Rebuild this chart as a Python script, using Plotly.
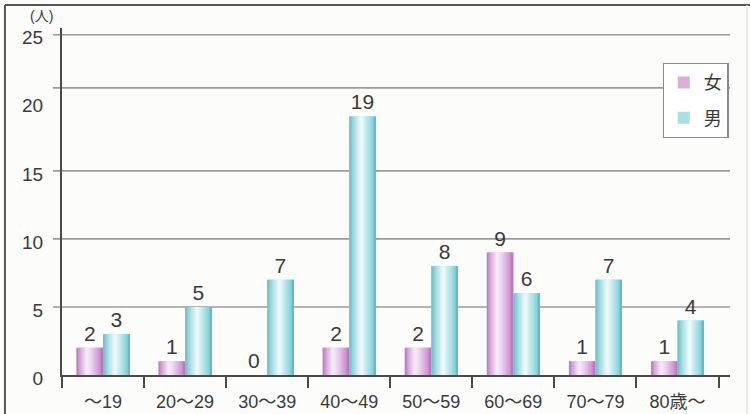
import plotly.graph_objects as go

# ---- data ----
categories = ["～19", "20～29", "30～39", "40～49", "50～59", "60～69", "70～79", "80歳～"]
female = [2, 1, 0, 2, 2, 9, 1, 1]
male = [3, 5, 7, 19, 8, 6, 7, 4]
y_ticks = [0, 5, 10, 15, 20, 25]
grid_levels = [5, 10, 15, 21.1, 25]   # printed gridline positions (one is off in the original)
series_names = ["女", "男"]

FONT = "Liberation Sans, Noto Sans CJK JP, sans-serif"
TXT = "#3a3a3a"
AX = "#4a4a4a"

def hex2rgb(h):
    h = h.lstrip("#")
    return tuple(int(h[i:i + 2], 16) for i in (0, 2, 4))

def interp(stops, t):
    for (t0, c0), (t1, c1) in zip(stops, stops[1:]):
        if t0 <= t <= t1:
            f = 0 if t1 == t0 else (t - t0) / (t1 - t0)
            a, b = hex2rgb(c0), hex2rgb(c1)
            return "rgb(%d,%d,%d)" % tuple(round(a[k] + (b[k] - a[k]) * f) for k in range(3))
    return stops[-1][1]

female_stops = [(0, "#b474bc"), (0.12, "#d4a2d8"), (0.38, "#f7eff7"), (0.55, "#eed4f0"),
                (0.85, "#cf98d3"), (1, "#b272ba")]
male_stops = [(0, "#68bcc6"), (0.18, "#a6dce2"), (0.45, "#f4fcfc"), (0.62, "#c6ecef"),
              (0.88, "#8ad4da"), (1, "#5eb2bb")]

bw = 0.323
N = 18
fig = go.Figure()

specs = [(female, -bw, female_stops, "#d9aedd", series_names[0]),
         (male, 0.0, male_stops, "#a9e0e5", series_names[1])]

for vals, base, stops, mid, name in specs:
    # label / legend trace (covered by strips)
    fig.add_trace(go.Bar(
        x=categories, y=vals, width=bw, offset=base, name=name,
        marker=dict(color=mid, line=dict(width=0)),
        text=[str(v) for v in vals], textposition="outside", constraintext="none",
        cliponaxis=False, textfont=dict(size=21, color=TXT, family=FONT),
        legendgroup=name, showlegend=True, hoverinfo="skip"))
    for i in range(N):
        sw = bw / N
        w = min(sw * 1.6, bw - i * sw)
        fig.add_trace(go.Bar(
            x=categories, y=vals, width=w, offset=base + i * sw,
            marker=dict(color=interp(stops, (i + 0.5) / N), line=dict(width=0)),
            showlegend=False, hoverinfo="skip", legendgroup=name))

shapes = []
for g in grid_levels:
    shapes.append(dict(type="line", xref="paper", yref="y", x0=-0.0135, x1=1.0, y0=g, y1=g,
                       line=dict(color="#9b9b9b", width=1.6), layer="below"))
# outer printed frame
shapes.append(dict(type="line", xref="paper", yref="paper", x0=-0.0854, x1=1.05, y0=1.066, y1=1.066,
                   line=dict(color="#555", width=2)))
shapes.append(dict(type="line", xref="paper", yref="paper", x0=-0.0854, x1=-0.0854, y0=1.066, y1=-0.2,
                   line=dict(color="#555", width=2)))
shapes.append(dict(type="line", xref="paper", yref="paper", x0=1.0254, x1=1.0254, y0=1.066, y1=-0.2,
                   line=dict(color="#e2e4e0", width=1.5)))

fig.update_layout(
    width=750, height=414,
    margin=dict(l=62, r=20, t=28, b=39),
    paper_bgcolor="#fcfdfa", plot_bgcolor="#fcfdfa",
    barmode="overlay",
    font=dict(family=FONT, color=TXT, size=18),
    shapes=shapes,
    showlegend=True,
    legend=dict(x=0.899, y=0.899, xanchor="left", yanchor="top",
                bgcolor="#ffffff", bordercolor="#8a8a8a", borderwidth=1.2,
                font=dict(size=18, color=TXT, family=FONT),
                tracegroupgap=9, itemwidth=30),
    annotations=[dict(text="(人)", xref="paper", yref="paper", x=-0.0314, y=1.035,
                      xanchor="center", yanchor="middle",
                      showarrow=False, font=dict(size=14, color=TXT, family=FONT))],
)
fig.update_xaxes(type="category", range=[-0.5, 7.64], tickson="boundaries",
                 ticks="outside", ticklen=11, tickwidth=1.5, tickcolor=AX,
                 showline=True, linecolor=AX, linewidth=2, showgrid=False, automargin=False,
                 tickfont=dict(size=18, color=TXT, family=FONT), ticklabelstandoff=9)
fig.update_yaxes(range=[0, 25.5], tickvals=y_ticks, ticks="", showgrid=False, zeroline=False,
                 showline=True, linecolor=AX, linewidth=2, automargin=False,
                 ticklabelshift=3,
                 tickfont=dict(size=19, color=TXT, family=FONT), ticklabelstandoff=13)

fig.write_html("out.html")
